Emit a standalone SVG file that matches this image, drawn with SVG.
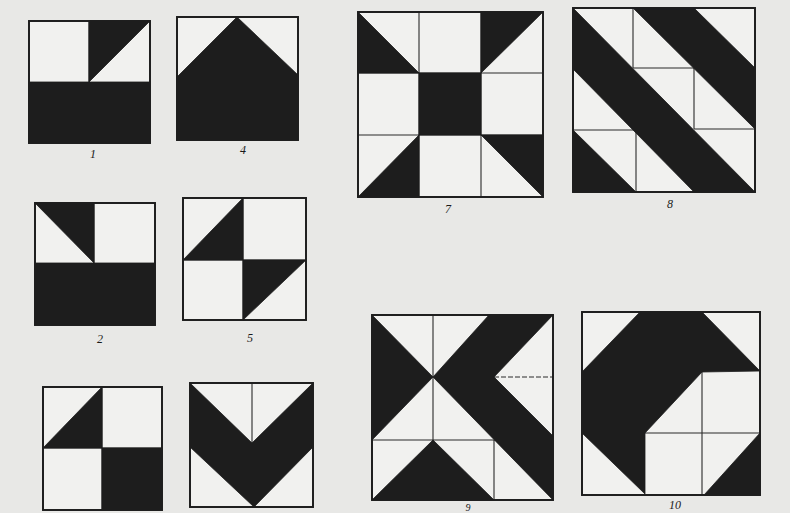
<svg xmlns="http://www.w3.org/2000/svg" width="790" height="513" viewBox="0 0 790 513">
<style>
.bg{fill:#e8e8e6}
.sq{fill:#f1f1ef;stroke:#1e1e1e;stroke-width:1.8}
.fr{fill:none;stroke:#1e1e1e;stroke-width:1.8}
.dk{fill:#1d1d1d;stroke:#1d1d1d;stroke-width:0.8}
.ln{fill:none;stroke:#2a2a2a;stroke-width:1.1}
.dash{fill:none;stroke:#2a2a2a;stroke-width:1;stroke-dasharray:5 2}
.lbl{font-family:"Liberation Serif",serif;font-style:italic;font-size:12px;fill:#1a1a1a;text-anchor:middle}
</style>
<rect class="bg" x="0" y="0" width="790" height="513"/>

<g id="block1">
<rect class="sq" x="29" y="21" width="121" height="122"/>
<line class="ln" x1="89" y1="21" x2="89" y2="82"/>
<polygon class="dk" points="89,21 150,21 89,82"/>
<rect class="dk" x="29" y="82" width="121" height="61"/>
<rect class="fr" x="29" y="21" width="121" height="122"/>
<text class="lbl" x="93" y="158">1</text>
</g>

<g id="block4">
<rect class="sq" x="177" y="17" width="121" height="123"/>
<polygon class="dk" points="177,77 237,17 298,75 298,140 177,140"/>
<rect class="fr" x="177" y="17" width="121" height="123"/>
<text class="lbl" x="243" y="154">4</text>
</g>

<g id="block2">
<rect class="sq" x="35" y="203" width="120" height="122"/>
<line class="ln" x1="94" y1="203" x2="94" y2="263"/>
<polygon class="dk" points="35,203 94,203 94,263"/>
<rect class="dk" x="35" y="263" width="120" height="62"/>
<rect class="fr" x="35" y="203" width="120" height="122"/>
<text class="lbl" x="100" y="343">2</text>
</g>

<g id="block5">
<rect class="sq" x="183" y="198" width="123" height="122"/>
<line class="ln" x1="243" y1="198" x2="243" y2="320"/>
<line class="ln" x1="183" y1="260" x2="306" y2="260"/>
<polygon class="dk" points="183,260 243,198 243,260"/>
<polygon class="dk" points="243,260 306,260 243,320"/>
<rect class="fr" x="183" y="198" width="123" height="122"/>
<text class="lbl" x="250" y="342">5</text>
</g>

<g id="block3">
<rect class="sq" x="43" y="387" width="119" height="123"/>
<line class="ln" x1="102" y1="387" x2="102" y2="510"/>
<line class="ln" x1="43" y1="448" x2="162" y2="448"/>
<polygon class="dk" points="43,448 102,387 102,448"/>
<rect class="dk" x="102" y="448" width="60" height="62"/>
<rect class="fr" x="43" y="387" width="119" height="123"/>
</g>

<g id="block6">
<rect class="sq" x="190" y="383" width="123" height="124"/>
<line class="ln" x1="252" y1="383" x2="252" y2="443"/>
<polygon class="dk" points="190,383 252,443 313,383 313,447 254,507 190,447"/>
<rect class="fr" x="190" y="383" width="123" height="124"/>
</g>

<g id="block7">
<rect class="sq" x="358" y="12" width="185" height="185"/>
<line class="ln" x1="419" y1="12" x2="419" y2="197"/>
<line class="ln" x1="481" y1="12" x2="481" y2="197"/>
<line class="ln" x1="358" y1="73" x2="543" y2="73"/>
<line class="ln" x1="358" y1="135" x2="543" y2="135"/>
<polygon class="dk" points="358,12 419,73 358,73"/>
<polygon class="dk" points="481,12 543,12 481,73"/>
<rect class="dk" x="419" y="73" width="62" height="62"/>
<polygon class="dk" points="419,135 419,197 358,197"/>
<polygon class="dk" points="481,135 543,135 543,197"/>
<rect class="fr" x="358" y="12" width="185" height="185"/>
<text class="lbl" x="448" y="213">7</text>
</g>

<g id="block8">
<rect class="sq" x="573" y="8" width="182" height="184"/>
<line class="ln" x1="633" y1="8" x2="633" y2="68"/>
<line class="ln" x1="633" y1="68" x2="694" y2="68"/>
<line class="ln" x1="694" y1="68" x2="694" y2="129"/>
<line class="ln" x1="694" y1="129" x2="755" y2="129"/>
<line class="ln" x1="573" y1="130" x2="636" y2="130"/>
<line class="ln" x1="636" y1="130" x2="636" y2="192"/>
<polygon class="dk" points="573,8 755,192 694,192 573,69"/>
<polygon class="dk" points="633,8 694,8 755,68 755,129"/>
<polygon class="dk" points="573,130 636,192 573,192"/>
<rect class="fr" x="573" y="8" width="182" height="184"/>
<text class="lbl" x="670" y="208">8</text>
</g>

<g id="block9">
<rect class="sq" x="372" y="315" width="181" height="185"/>
<line class="ln" x1="433" y1="315" x2="433" y2="500"/>
<line class="ln" x1="372" y1="440" x2="553" y2="440"/>
<line class="ln" x1="494" y1="440" x2="494" y2="500"/>
<line class="dash" x1="494" y1="377" x2="553" y2="377"/>
<polygon class="dk" points="372,315 433,377 372,440"/>
<polygon class="dk" points="433,377 489,315 553,315 494,377 553,436 553,500"/>
<polygon class="dk" points="372,500 433,440 494,500"/>
<rect class="fr" x="372" y="315" width="181" height="185"/>
<text class="lbl" x="468" y="511" style="font-size:10px">9</text>
</g>

<g id="block10">
<rect class="sq" x="582" y="312" width="178" height="183"/>
<line class="ln" x1="702" y1="372" x2="702" y2="495"/>
<line class="ln" x1="642" y1="433" x2="760" y2="433"/>
<polygon class="dk" points="640,312 702,312 760,371 702,372 645,433 645,494 582,433 582,372"/>
<polygon class="dk" points="760,433 760,495 704,495"/>
<rect class="fr" x="582" y="312" width="178" height="183"/>
<text class="lbl" x="675" y="509">10</text>
</g>
</svg>
